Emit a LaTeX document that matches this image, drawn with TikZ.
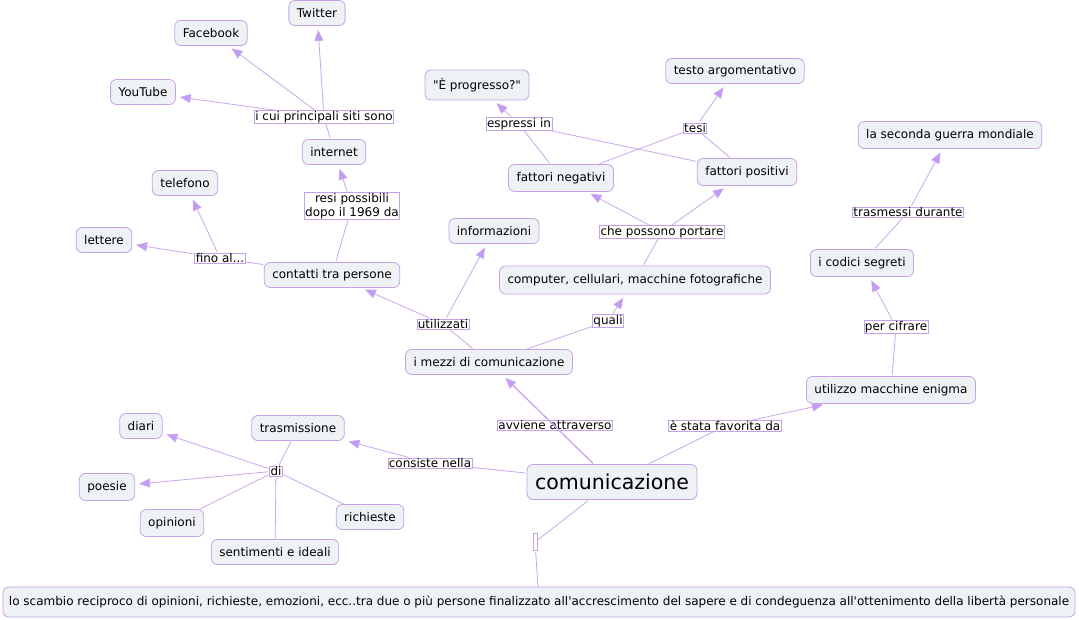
\documentclass[tikz,border=0pt]{standalone}
\usepackage{fontspec}
\setmainfont{DejaVu Sans}[Ligatures=TeXOff]
\usetikzlibrary{arrows.meta}
\definecolor{cmapline}{HTML}{C9A6EE}
\definecolor{cmaptip}{HTML}{C29BF2}
\definecolor{cmapfill}{HTML}{EEF2F5}
\definecolor{cmapedge}{HTML}{C3A2E6}
\tikzset{
  concept/.style={draw=cmapedge,fill=cmapfill,rounded corners=6pt,line width=0.8pt,
    minimum height=25pt,inner xsep=8pt,font=\fontsize{12}{14}\selectfont},
  phrase/.style={draw=cmapedge,fill=white,line width=0.7pt,inner xsep=1pt,inner ysep=0.5pt,
    font=\fontsize{12}{14}\selectfont},
  link/.style={draw=cmapline,line width=0.8pt,shorten <=1pt},
  arrow/.style={link,-{Triangle[length=11pt,width=9pt,fill=cmaptip]},shorten >=4pt}
}
\begin{document}
\begin{tikzpicture}[x=1pt,y=-1pt]
	\useasboundingbox (0,0) rectangle (1079,619);
	% concetti
	\node[concept] (twitter) at (317,13) {Twitter};
	\node[concept] (facebook) at (211,33) {Facebook};
	\node[concept] (youtube) at (143,92) {YouTube};
	\node[concept] (internet) at (334,152) {internet};
	\node[concept] (telefono) at (185,183) {telefono};
	\node[concept] (lettere) at (104,240) {lettere};
	\node[concept] (contatti) at (332,275) {contatti tra persone};
	\node[concept,minimum height=30pt] (progresso) at (477,85) {"È progresso?"};
	\node[concept] (testo) at (735,71) {testo argomentativo};
	\node[concept,minimum height=27pt] (negativi) at (561,178) {fattori negativi};
	\node[concept,minimum height=27pt] (positivi) at (747,172) {fattori positivi};
	\node[concept] (informazioni) at (494,231) {informazioni};
	\node[concept,minimum height=28pt] (computer) at (635,280) {computer, cellulari, macchine fotografiche};
	\node[concept,minimum height=27pt] (guerra) at (950,135) {la seconda guerra mondiale};
	\node[concept,minimum height=27pt] (codici) at (862,263) {i codici segreti};
	\node[concept,minimum height=27pt] (enigma) at (891,390) {utilizzo macchine enigma};
	\node[concept] (mezzi) at (489,362) {i mezzi di comunicazione};
	\node[concept,minimum height=35pt,font=\fontsize{20.5}{24}\selectfont] (comunic) at (612,482) {comunicazione};
	\node[concept,minimum height=30pt,inner xsep=6pt] (scambio) at (539,602) {lo scambio reciproco di opinioni, richieste, emozioni, ecc..tra due o più persone finalizzato all'accrescimento del sapere e di condeguenza all'ottenimento della libertà personale};
	\node[concept] (diari) at (141,426) {diari};
	\node[concept] (trasmissione) at (298,428) {trasmissione};
	\node[concept,minimum height=27pt] (poesie) at (107,487) {poesie};
	\node[concept,minimum height=27pt] (opinioni) at (172,523) {opinioni};
	\node[concept] (richieste) at (370,517) {richieste};
	\node[concept] (sentimenti) at (275,552) {sentimenti e ideali};
	% frasi legame
	\node[phrase] (siti) at (324,117) {i cui principali siti sono};
	\node[phrase,align=center] (resi) at (352,206) {resi possibili\\dopo il 1969 da};
	\node[phrase] (finoal) at (220,258) {fino al...};
	\node[phrase] (espressi) at (519,124) {espressi in};
	\node[phrase] (tesi) at (695,128) {tesi};
	\node[phrase] (portare) at (662,232) {che possono portare};
	\node[phrase] (trasmessi) at (908,212) {trasmessi durante};
	\node[phrase] (cifrare) at (896,327) {per cifrare};
	\node[phrase] (utilizzati) at (443,324) {utilizzati};
	\node[phrase] (quali) at (608,321) {quali};
	\node[phrase] (favorita) at (725,426) {è stata favorita da};
	\node[phrase] (consiste) at (430,463) {consiste nella};
	\node[phrase] (di) at (276,471) {di};
	\node[phrase,minimum width=4pt,minimum height=17pt,inner sep=0pt] (vuoto) at (535,542) {};
	% collegamenti
	\draw[link] (contatti) -- (resi);
	\draw[arrow] (resi) -- (internet);
	\draw[link] (internet) -- (siti);
	\foreach \t in {twitter,facebook,youtube}
		\draw[arrow] (siti) -- (\t);
	\draw[link] (contatti) -- (finoal);
	\foreach \t in {lettere,telefono}
		\draw[arrow] (finoal) -- (\t);
	\draw[link] (mezzi) -- (utilizzati);
	\foreach \t in {contatti,informazioni}
		\draw[arrow] (utilizzati) -- (\t);
	\draw[link] (mezzi) -- (quali);
	\draw[arrow] (quali) -- (computer);
	\draw[link] (computer) -- (portare);
	\foreach \t in {negativi,positivi}
		\draw[arrow] (portare) -- (\t);
	\draw[link] (negativi) -- (espressi);
	\draw[link] (positivi) -- (espressi);
	\draw[arrow] (espressi) -- (progresso);
	\draw[link] (negativi) -- (tesi);
	\draw[link] (positivi) -- (tesi);
	\draw[arrow] (tesi) -- (testo);
	\node[phrase] (avviene) at (555,425) {avviene attraverso};
	\draw[arrow,line width=1.3pt] (comunic) -- (mezzi);
	\draw[link] (comunic) -- (favorita);
	\draw[arrow] (favorita) -- (enigma);
	\draw[link] (enigma) -- (cifrare);
	\draw[arrow] (cifrare) -- (codici);
	\draw[link] (codici) -- (trasmessi);
	\draw[arrow] (trasmessi) -- (guerra);
	\draw[link] (comunic) -- (consiste);
	\draw[arrow] (consiste) -- (trasmissione);
	\draw[link] (trasmissione) -- (di);
	\foreach \t in {diari,poesie}
		\draw[arrow] (di) -- (\t);
	\foreach \t in {opinioni,richieste,sentimenti}
		\draw[link] (di) -- (\t);
	\draw[link] (comunic) -- (vuoto);
	\draw[link] (vuoto) -- (scambio);
\end{tikzpicture}
\end{document}
